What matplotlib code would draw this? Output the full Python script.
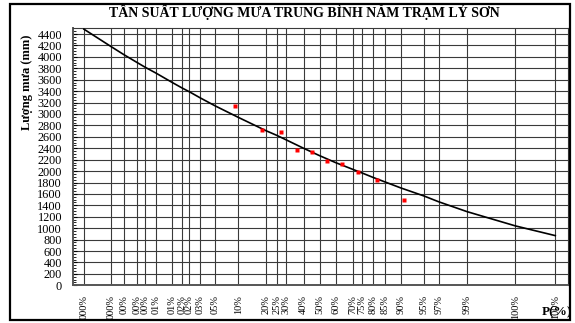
import numpy as np
import matplotlib.pyplot as plt
from matplotlib.patches import Rectangle
from matplotlib.ticker import MultipleLocator
from statistics import NormalDist

plt.rcParams.update({
    'font.family': ['Liberation Serif', 'DejaVu Serif'],
    'font.size': 8,
})

# Lưới xác suất (%) và nhãn trục hoành
x_ticks = [0.01, 0.05, 0.1, 0.2, 0.3, 0.5, 1, 1.5, 2, 3, 5, 10, 20, 25, 30,
           40, 50, 60, 70, 75, 80, 85, 90, 95, 97, 99, 99.9, 99.99]
x_labels = ['000%', '000%', '00%', '00%', '00%', '01%', '01%', '02%', '02%',
            '03%', '05%', '10%', '20%', '25%', '30%', '40%', '50%', '60%',
            '70%', '75%', '80%', '85%', '90%', '95%', '97%', '99%', '100%',
            '100%']

# Đường tần suất lý luận (mm) tại các mốc xác suất
curve_p = x_ticks
curve_x = [4485, 4180, 4040, 3900, 3815, 3712, 3552, 3455, 3388, 3280, 3140,
           2940, 2705, 2625, 2545, 2400, 2270, 2148, 2030, 1965, 1890, 1808,
           1705, 1565, 1462, 1290, 1040, 870]

# Điểm kinh nghiệm: P = m/(n+1)
obs_p = [9.09, 18.18, 27.27, 36.36, 45.45, 54.55, 63.64, 72.73, 81.82, 90.91]
obs_x = [3140, 2720, 2690, 2365, 2340, 2178, 2121, 1985, 1838, 1490]

_nd = NormalDist()


def p_to_z(p):
    p = np.clip(np.asarray(p, dtype=float) / 100.0, 1e-12, 1 - 1e-12)
    return np.vectorize(_nd.inv_cdf, otypes=[float])(p)


def z_to_p(z):
    z = np.asarray(z, dtype=float)
    return np.vectorize(_nd.cdf, otypes=[float])(z) * 100.0


fig = plt.figure(figsize=(5.75, 3.23), dpi=100)
ax = fig.add_axes([0.127, 0.1167, 0.861, 0.7957])
ax.set_xscale('function', functions=(p_to_z, z_to_p))

ax.plot(curve_p, curve_x, color='black', lw=1.2, zorder=3)
ax.plot(obs_p, obs_x, 's', color='red', ms=2.4, mec='none', zorder=4)

ax.set_xlim(0.005, 99.9956)
ax.set_ylim(0, 4500)
ax.set_xticks(x_ticks)
ax.set_xticklabels(x_labels, rotation=90, fontsize=7.5, va='top')
ax.set_yticks(np.arange(0, 4401, 200))
ax.yaxis.set_minor_locator(MultipleLocator(50))
ax.tick_params(axis='y', which='major', labelsize=8.8, length=3,
               direction='in', pad=8)
ax.tick_params(axis='y', which='minor', length=2, direction='in')
ax.tick_params(axis='x', length=0, pad=7)

ax.set_axisbelow(True)
ax.grid(True, which='major', color='#3a3a3a', lw=0.8)
for side in ('left', 'bottom'):
    ax.spines[side].set_color('#555555')
    ax.spines[side].set_linewidth(1.4)
for side in ('top', 'right'):
    ax.spines[side].set_color('#3a3a3a')
    ax.spines[side].set_linewidth(0.8)

fig.text(0.53, 0.962, 'TẦN SUẤT LƯỢNG MƯA TRUNG BÌNH NĂM TRẠM LÝ SƠN',
         ha='center', va='center', fontsize=10, fontweight='bold')
fig.text(0.047, 0.745, 'Lượng mưa (mm)', rotation=90, ha='center',
         va='center', fontsize=9, fontweight='bold')
fig.text(0.969, 0.034, 'P(%)', ha='center', va='center', fontsize=9.5,
         fontweight='bold')

fig.add_artist(Rectangle((10 / 575, 3 / 323), 560 / 575, 316 / 323,
                         transform=fig.transFigure, fill=False,
                         edgecolor='black', lw=1.6))

fig.savefig('out.png', dpi=100)
